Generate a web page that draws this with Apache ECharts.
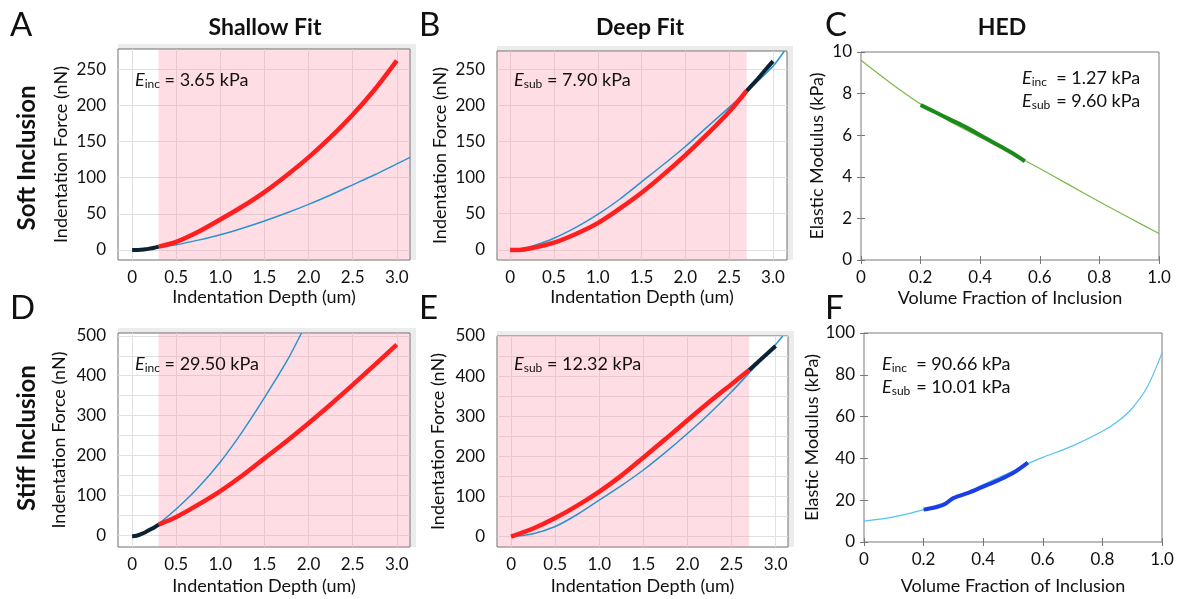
<!DOCTYPE html>
<html>
<head>
<meta charset="utf-8">
<script src="https://cdn.jsdelivr.net/npm/echarts@6/dist/echarts.min.js"></script>
<style>
  html, body { margin: 0; padding: 0; background: #fff; }
  #chart { width: 1184px; height: 599px; }
</style>
</head>
<body>
<div id="chart"></div>
<script>
// tick values
const depthTicks = [0, 0.5, 1.0, 1.5, 2.0, 2.5, 3.0];
const softForceTicks = [0, 50, 100, 150, 200, 250];
const stiffForceTicks = [0, 100, 200, 300, 400, 500];
const stiffForceGrid = [0, 50, 100, 150, 200, 250, 300, 350, 400, 450, 500];
const fractionTicks = [0, 0.2, 0.4, 0.6, 0.8, 1.0];
const softModulusTicks = [0, 2, 4, 6, 8, 10];
const stiffModulusTicks = [0, 20, 40, 60, 80, 100];

// A - shallow fit, soft inclusion  [depth um, force nN]
const shallowSoftData = [[0, 0], [0.05, 0], [0.1, 0.3], [0.15, 0.8], [0.2, 1.8], [0.25, 3], [0.3, 4.5]];
const shallowSoftFitted = [[0.3, 4.5], [0.5, 11], [0.75, 25], [1.0, 42], [1.25, 60], [1.5, 80], [1.75, 103], [2.0, 128], [2.25, 156], [2.5, 187], [2.75, 222], [3.0, 262]];
const shallowSoftModel = [[0, 0], [0.25, 2.5], [0.5, 7], [0.75, 13.5], [1.0, 21], [1.25, 30], [1.5, 40], [1.75, 51], [2.0, 63], [2.25, 76], [2.5, 90], [2.75, 104], [3.0, 119], [3.15, 128]];
const shallowRange = [0.3, Infinity];

// B - deep fit, soft inclusion
const deepSoftFitted = [[0, 0], [0.1, 0], [0.25, 2.5], [0.5, 10], [0.75, 22], [1.0, 37], [1.25, 57], [1.5, 79], [1.75, 104], [2.0, 131], [2.25, 160], [2.5, 191], [2.7, 220]];
const deepSoftData = [[2.7, 220], [2.8, 233], [2.9, 247], [3.0, 261]];
const deepSoftModel = [[0, 0], [0.1, 0.5], [0.25, 5], [0.5, 16], [0.75, 31], [1.0, 49], [1.25, 70], [1.5, 94], [1.75, 118], [2.0, 143], [2.25, 170], [2.5, 197], [2.7, 219], [3.0, 254], [3.13, 275]];
const deepRange = [-Infinity, 2.7];

// C - HED, soft inclusion  [volume fraction, kPa]
const hedSoftCurve = [[0, 9.6], [0.1, 8.5], [0.2, 7.5], [0.3, 6.65], [0.4, 5.9], [0.5, 5.15], [0.6, 4.4], [0.7, 3.6], [0.8, 2.8], [0.9, 2.03], [1.0, 1.27]];
const hedSoftData = [[0.2, 7.45], [0.25, 7.1], [0.3, 6.75], [0.35, 6.4], [0.4, 6.0], [0.45, 5.6], [0.5, 5.2], [0.55, 4.75]];

// D - shallow fit, stiff inclusion
const shallowStiffData = [[0, -2], [0.05, -1], [0.1, 3], [0.15, 8], [0.2, 14], [0.25, 20], [0.3, 27]];
const shallowStiffFitted = [[0.3, 27], [0.5, 46], [0.75, 77], [1.0, 111], [1.25, 150], [1.5, 193], [1.75, 236], [2.0, 281], [2.25, 328], [2.5, 377], [2.75, 427], [3.0, 478]];
const shallowStiffModel = [[0, -2], [0.1, 4], [0.2, 15], [0.3, 29], [0.5, 66], [0.75, 120], [1.0, 184], [1.25, 260], [1.5, 345], [1.75, 435], [1.92, 507]];

// E - deep fit, stiff inclusion
const deepStiffFitted = [[0, 0], [0.25, 20], [0.5, 46], [0.75, 77], [1.0, 112], [1.25, 152], [1.5, 197], [1.75, 243], [2.0, 290], [2.25, 336], [2.5, 380], [2.7, 415]];
const deepStiffData = [[2.7, 415], [2.8, 435], [2.9, 455], [3.0, 475]];
const deepStiffModel = [[0, 0], [0.25, 7], [0.5, 25], [0.75, 55], [1.0, 91], [1.25, 127], [1.5, 166], [1.75, 210], [2.0, 257], [2.25, 307], [2.5, 361], [2.7, 408], [3.0, 479], [3.08, 500]];

// F - HED, stiff inclusion
const hedStiffCurve = [[0, 10], [0.1, 12], [0.2, 15.5], [0.3, 20.5], [0.4, 27.5], [0.5, 34], [0.55, 37.5], [0.6, 40.5], [0.7, 46], [0.8, 53], [0.85, 57.5], [0.9, 64], [0.95, 74], [1.0, 90.5]];
const hedStiffData = [[0.2, 15.5], [0.22, 16], [0.25, 17], [0.27, 18], [0.3, 21], [0.35, 23.5], [0.4, 26.5], [0.45, 29.5], [0.5, 33], [0.55, 38]];

const FONT = 'Lato';
const TXT = '#111';
const RED = '#ff1f1f';
const DARK = '#0c2233';
const FITBLUE = '#2b92d2';
const PINK = 'rgba(255,130,155,0.27)';
const fmt1 = v => (v === 0 ? '0' : v.toFixed(1));

const chart = echarts.init(document.getElementById('chart'));

const grids = [], xAxes = [], yAxes = [], series = [], graphics = [];

// depth panels (force vs depth)
function depthPanel(p) {
  const gi = grids.length;
  grids.push({ left: p.left, top: p.top, width: p.width, height: p.height, show: true,
    backgroundColor: '#fff', borderColor: '#6e6e6e', borderWidth: 1, outerBoundsMode: 'none' });
  graphics.push({ type: 'rect', z: -10, shape: { x: p.left, y: p.top - 5, width: p.width + 6, height: p.height + 5 },
    style: { fill: '#ececec' } });
  const xi = xAxes.length;
  xAxes.push({
    type: 'value', gridIndex: gi, min: p.xMin, max: p.xMax,
    axisLine: { show: false },
    axisTick: { show: false, customValues: depthTicks },
    axisLabel: { customValues: depthTicks, formatter: fmt1, fontSize: 17, color: TXT, margin: 9, fontFamily: FONT },
    splitLine: { show: true, lineStyle: { color: '#e1e1e1', width: 1 } },
    name: 'Indentation Depth (um)', nameLocation: 'middle', nameGap: p.xNameGap,
    nameTextStyle: { fontSize: 18, color: TXT, fontFamily: FONT }
  });
  const yi = yAxes.length;
  yAxes.push({
    type: 'value', gridIndex: gi, min: p.yMin, max: p.yMax,
    axisLine: { show: false },
    axisTick: { show: false, customValues: p.yGrid },
    axisLabel: { customValues: p.yLabels, fontSize: 17, color: TXT, margin: 12, fontFamily: FONT },
    splitLine: { show: true, lineStyle: { color: '#e1e1e1', width: 1 } },
    name: 'Indentation Force (nN)', nameLocation: 'middle', nameGap: p.yNameGap,
    nameTextStyle: { fontSize: 18, color: TXT, fontFamily: FONT }
  });
  const base = { type: 'line', xAxisIndex: xi, yAxisIndex: yi, showSymbol: false, smooth: 0.3, silent: true };
  series.push(Object.assign({}, base, {
    data: p.model, lineStyle: { color: FITBLUE, width: 1.5 }, z: 3,
    markArea: { silent: true, itemStyle: { color: PINK }, data: [[{ xAxis: p.range[0] }, { xAxis: p.range[1] }]] }
  }));
  series.push(Object.assign({}, base, { data: p.fitted, lineStyle: { color: RED, width: 4.5 }, z: 4 }));
  series.push(Object.assign({}, base, { data: p.raw, lineStyle: { color: DARK, width: 4 }, z: 5 }));
}

// HED panels (modulus vs volume fraction)
function hedPanel(p) {
  const gi = grids.length;
  grids.push({ left: p.left, top: p.top, width: p.width, height: p.height, show: true,
    backgroundColor: '#fff', borderColor: '#7a7a7a', borderWidth: 1, outerBoundsMode: 'none' });
  const tick = { show: true, inside: true, length: 4, lineStyle: { color: '#777' } };
  const xi = xAxes.length;
  xAxes.push({
    type: 'value', gridIndex: gi, min: 0, max: 1,
    axisLine: { show: false },
    axisTick: Object.assign({}, tick, { customValues: fractionTicks }),
    axisLabel: { customValues: fractionTicks, formatter: fmt1, fontSize: 17, color: TXT, margin: 9, fontFamily: FONT },
    splitLine: { show: false },
    name: 'Volume Fraction of Inclusion', nameLocation: 'middle', nameGap: p.xNameGap,
    nameTextStyle: { fontSize: 18, color: TXT, fontFamily: FONT }
  });
  xAxes.push({
    type: 'value', gridIndex: gi, min: 0, max: 1, position: 'top',
    axisLine: { show: false }, axisLabel: { show: false }, splitLine: { show: false },
    axisTick: Object.assign({}, tick, { customValues: fractionTicks })
  });
  const yi = yAxes.length;
  yAxes.push({
    type: 'value', gridIndex: gi, min: p.yMin, max: p.yMax,
    axisLine: { show: false },
    axisTick: Object.assign({}, tick, { customValues: p.yLabels }),
    axisLabel: { customValues: p.yLabels, fontSize: 17, color: TXT, margin: 9, fontFamily: FONT },
    splitLine: { show: false },
    name: 'Elastic Modulus (kPa)', nameLocation: 'middle', nameGap: p.yNameGap,
    nameTextStyle: { fontSize: 18, color: TXT, fontFamily: FONT }
  });
  yAxes.push({
    type: 'value', gridIndex: gi, min: p.yMin, max: p.yMax, position: 'right',
    axisLine: { show: false }, axisLabel: { show: false }, splitLine: { show: false },
    axisTick: Object.assign({}, tick, { customValues: p.yLabels })
  });
  const base = { type: 'line', xAxisIndex: xi, yAxisIndex: yi, showSymbol: false, smooth: 0.3, silent: true };
  series.push(Object.assign({}, base, { data: p.curve, lineStyle: { color: p.thin, width: 1.2 } }));
  series.push(Object.assign({}, base, { data: p.raw, lineStyle: { color: p.thick, width: 4 }, z: 4 }));
}

depthPanel({ left: 118, top: 49, width: 292, height: 211, xMin: -0.16, xMax: 3.15, yMin: -14, yMax: 278,
  yLabels: softForceTicks, yGrid: softForceTicks, xNameGap: 28, yNameGap: 48,
  raw: shallowSoftData, fitted: shallowSoftFitted, model: shallowSoftModel, range: shallowRange });
depthPanel({ left: 497, top: 51, width: 290, height: 209, xMin: -0.15, xMax: 3.16, yMin: -14, yMax: 275,
  yLabels: softForceTicks, yGrid: softForceTicks, xNameGap: 28, yNameGap: 48,
  raw: deepSoftData, fitted: deepSoftFitted, model: deepSoftModel, range: deepRange });
hedPanel({ left: 861, top: 52, width: 298, height: 208, yMin: 0, yMax: 10, yLabels: softModulusTicks,
  xNameGap: 29, yNameGap: 35, curve: hedSoftCurve, raw: hedSoftData, thin: '#7cb84a', thick: '#1b8a1b' });
depthPanel({ left: 118, top: 333, width: 292, height: 214, xMin: -0.16, xMax: 3.15, yMin: -29, yMax: 507,
  yLabels: stiffForceTicks, yGrid: stiffForceGrid, xNameGap: 30, yNameGap: 50,
  raw: shallowStiffData, fitted: shallowStiffFitted, model: shallowStiffModel, range: shallowRange });
depthPanel({ left: 497, top: 336, width: 291, height: 211, xMin: -0.16, xMax: 3.14, yMin: -26, yMax: 500,
  yLabels: stiffForceTicks, yGrid: stiffForceGrid, xNameGap: 30, yNameGap: 50,
  raw: deepStiffData, fitted: deepStiffFitted, model: deepStiffModel, range: deepRange });
hedPanel({ left: 864, top: 333, width: 298, height: 209, yMin: 0, yMax: 100, yLabels: stiffModulusTicks,
  xNameGap: 35, yNameGap: 40, curve: hedStiffCurve, raw: hedStiffData, thin: '#55c2ef', thick: '#1a3fe6' });

// texts
function txt(x, y, text, opt) {
  graphics.push(Object.assign({ type: 'text', x: x, y: y, z: 20,
    style: Object.assign({ text: text, fill: TXT, fontFamily: FONT, fontSize: 17,
      align: 'left', verticalAlign: 'middle' }, opt && opt.style) }, opt && opt.el));
}
const richE = {
  e: { fontStyle: 'italic', fontSize: 18, fontFamily: FONT, fill: TXT },
  s: { fontSize: 12, fontFamily: FONT, fill: TXT, padding: [9, 0, 0, 0] },
  w: { fontSize: 12, fontFamily: FONT, fill: TXT, padding: [9, 0, 0, 0], width: 20 }
};
['A', 'B', 'C'].forEach((l, i) => txt([10, 419, 825][i], 25, l, { style: { fontSize: 33 } }));
['D', 'E', 'F'].forEach((l, i) => txt([10, 419, 825][i], 308, l, { style: { fontSize: 33 } }));
txt(265, 28, 'Shallow Fit', { style: { fontSize: 23, fontWeight: 'bold', align: 'center' } });
txt(640, 28, 'Deep Fit', { style: { fontSize: 23, fontWeight: 'bold', align: 'center' } });
txt(1002, 28, 'HED', { style: { fontSize: 23, fontWeight: 'bold', align: 'center' } });
txt(27, 158, 'Soft Inclusion', { style: { fontSize: 24, fontWeight: 'bold', align: 'center' }, el: { rotation: Math.PI / 2 } });
txt(27, 438, 'Stiff Inclusion', { style: { fontSize: 24, fontWeight: 'bold', align: 'center' }, el: { rotation: Math.PI / 2 } });

txt(135, 80, '{e|E}{s|inc} = 3.65 kPa', { style: { rich: richE, fontSize: 18 } });
txt(514, 80, '{e|E}{s|sub} = 7.90 kPa', { style: { rich: richE, fontSize: 18 } });
txt(1022, 78, '{e|E}{w|inc} = 1.27 kPa', { style: { rich: richE, fontSize: 18 } });
txt(1022, 101, '{e|E}{w|sub} = 9.60 kPa', { style: { rich: richE, fontSize: 18 } });
txt(135, 364, '{e|E}{s|inc} = 29.50 kPa', { style: { rich: richE, fontSize: 18 } });
txt(514, 364, '{e|E}{s|sub} = 12.32 kPa', { style: { rich: richE, fontSize: 18 } });
txt(882, 364, '{e|E}{w|inc} = 90.66 kPa', { style: { rich: richE, fontSize: 18 } });
txt(882, 387, '{e|E}{w|sub} = 10.01 kPa', { style: { rich: richE, fontSize: 18 } });

chart.setOption({
  backgroundColor: '#fff',
  animation: false,
  textStyle: { fontFamily: FONT },
  grid: grids,
  xAxis: xAxes,
  yAxis: yAxes,
  series: series,
  graphic: graphics
});
</script>
</body>
</html>
